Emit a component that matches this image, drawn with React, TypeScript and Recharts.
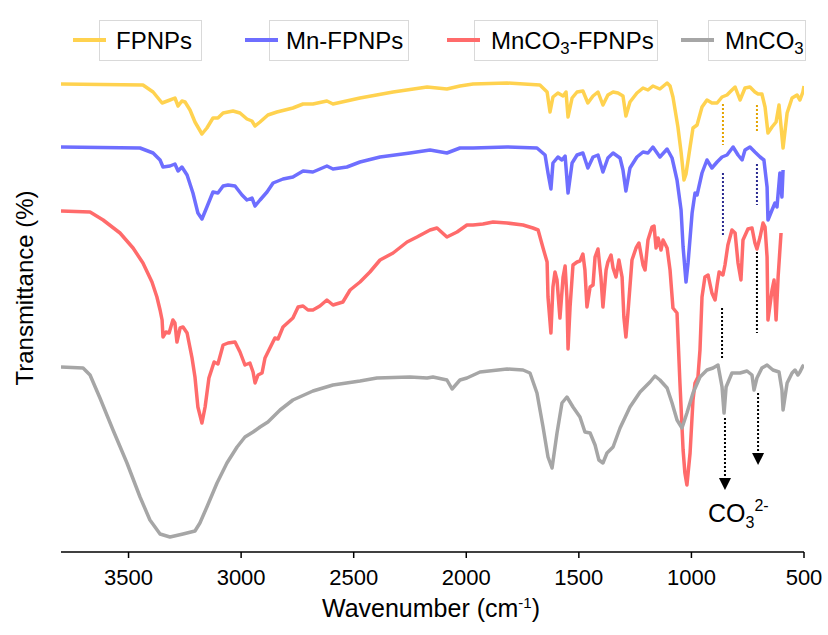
import React from 'react';
import { ComposedChart, Line, XAxis, YAxis, ReferenceLine, Scatter } from 'recharts';

// Wavenumber (cm-1), transmittance (arbitrary offset units)
const fpnps: [number, number][] = [
  [3800, 468], [3436, 467], [3391, 460], [3351, 449], [3316, 452], [3294, 454], [3280, 446], [3263, 451],
  [3249, 450], [3227, 442], [3205, 430], [3174, 418], [3152, 424], [3125, 434], [3103, 434], [3080, 439],
  [3036, 441], [3005, 439], [2974, 433], [2952, 431], [2938, 426], [2916, 430], [2881, 437], [2841, 440],
  [2770, 444], [2725, 448], [2681, 448], [2619, 451], [2592, 448], [2472, 454], [2325, 460], [2174, 465],
  [2086, 463], [2028, 466], [1970, 468], [1819, 469], [1673, 467], [1641, 460], [1628, 440], [1615, 455],
  [1593, 459], [1570, 456], [1557, 460], [1548, 435], [1530, 454], [1508, 460], [1482, 461], [1460, 449],
  [1437, 456], [1415, 460], [1393, 447], [1371, 457], [1348, 460], [1326, 459], [1304, 456], [1291, 436],
  [1273, 450], [1242, 459], [1215, 464], [1193, 462], [1171, 466], [1140, 463], [1108, 469], [1095, 466],
  [1082, 455], [1060, 425], [1046, 400], [1033, 372], [1024, 378], [1006, 405], [993, 424], [975, 427],
  [953, 445], [931, 452], [909, 449], [886, 449], [864, 455], [842, 457], [820, 462], [806, 465],
  [784, 452], [762, 464], [740, 465], [718, 460], [704, 458], [687, 458], [673, 445], [660, 419],
  [642, 425], [624, 430], [611, 447], [593, 404], [575, 439], [553, 454], [531, 457], [518, 452],
  [505, 460], [500, 466],
];

const mnFpnps: [number, number][] = [
  [3800, 405], [3449, 404], [3391, 399], [3360, 392], [3347, 385], [3316, 386], [3294, 388], [3280, 381],
  [3263, 385], [3240, 377], [3214, 359], [3192, 339], [3174, 333], [3152, 345], [3125, 360], [3103, 359],
  [3080, 366], [3058, 367], [3027, 366], [2996, 357], [2974, 352], [2952, 354], [2938, 346], [2916, 352],
  [2885, 360], [2858, 369], [2814, 373], [2770, 375], [2725, 381], [2681, 380], [2619, 386], [2592, 383],
  [2530, 385], [2472, 390], [2383, 395], [2250, 399], [2161, 402], [2086, 399], [2028, 404], [1970, 404],
  [1819, 405], [1686, 404], [1650, 397], [1637, 379], [1624, 363], [1615, 389], [1593, 395], [1575, 392],
  [1561, 396], [1548, 359], [1530, 389], [1508, 397], [1482, 399], [1460, 384], [1437, 395], [1415, 397],
  [1393, 380], [1371, 394], [1348, 399], [1317, 394], [1304, 382], [1291, 361], [1273, 384], [1242, 395],
  [1215, 400], [1193, 399], [1171, 405], [1140, 395], [1108, 403], [1086, 394], [1064, 372], [1046, 342],
  [1037, 305], [1024, 270], [1015, 289], [997, 339], [984, 359], [975, 357], [953, 379], [931, 392],
  [909, 384], [886, 390], [864, 395], [842, 397], [815, 405], [793, 397], [775, 392], [762, 402],
  [740, 405], [718, 400], [695, 395], [678, 392], [664, 365], [660, 332], [642, 342], [629, 349],
  [620, 345], [607, 379], [598, 355], [593, 382],
];

const mnco3Fpnps: [number, number][] = [
  [3800, 341], [3671, 340], [3613, 332], [3538, 319], [3480, 304], [3436, 289], [3396, 270], [3374, 255],
  [3360, 242], [3351, 232], [3347, 215], [3334, 220], [3320, 219], [3303, 232], [3294, 229], [3285, 210],
  [3271, 224], [3258, 225], [3240, 219], [3218, 194], [3205, 175], [3192, 145], [3174, 129], [3160, 145],
  [3143, 174], [3120, 190], [3103, 188], [3080, 207], [3058, 209], [3027, 210], [3005, 200], [2983, 187],
  [2961, 189], [2947, 180], [2938, 169], [2925, 177], [2907, 179], [2894, 194], [2872, 204], [2850, 214],
  [2836, 213], [2814, 225], [2770, 234], [2747, 245], [2725, 246], [2703, 242], [2681, 242], [2650, 246],
  [2619, 252], [2592, 247], [2548, 250], [2516, 262], [2472, 270], [2428, 280], [2383, 292], [2325, 299],
  [2263, 310], [2219, 315], [2161, 322], [2130, 324], [2086, 315], [2041, 320], [1997, 327], [1970, 327],
  [1926, 328], [1881, 330], [1819, 329], [1748, 327], [1704, 324], [1681, 322], [1659, 304], [1641, 290],
  [1637, 255], [1624, 219], [1615, 265], [1606, 280], [1597, 272], [1584, 234], [1570, 275], [1561, 286],
  [1553, 255], [1548, 203], [1539, 245], [1526, 287], [1508, 290], [1495, 291], [1482, 298], [1473, 282],
  [1464, 245], [1450, 265], [1437, 267], [1428, 295], [1415, 303], [1402, 275], [1393, 245], [1379, 282],
  [1371, 290], [1357, 297], [1348, 284], [1335, 275], [1322, 292], [1308, 275], [1300, 235], [1291, 215],
  [1282, 239], [1264, 292], [1246, 304], [1233, 309], [1215, 287], [1206, 282], [1193, 312], [1175, 325],
  [1166, 326], [1157, 304], [1148, 314], [1135, 302], [1126, 312], [1108, 304], [1095, 282], [1082, 244],
  [1064, 239], [1051, 169], [1037, 102], [1029, 79], [1020, 67], [1006, 99], [993, 152], [984, 169],
  [971, 175], [962, 202], [953, 255], [940, 275], [926, 277], [909, 259], [895, 252], [886, 267],
  [877, 280], [860, 277], [851, 287], [838, 307], [820, 322], [806, 319], [793, 289], [780, 272],
  [771, 312], [749, 323], [731, 324], [718, 309], [709, 303], [695, 315], [682, 329], [673, 325],
  [664, 295], [660, 232], [642, 262], [633, 272], [624, 232], [615, 275], [602, 319],
];

const mnco3: [number, number][] = [
  [3800, 185], [3702, 184], [3671, 177], [3627, 154], [3569, 122], [3507, 89], [3449, 55], [3405, 32],
  [3360, 18], [3316, 15], [3258, 18], [3205, 21], [3183, 29], [3152, 45], [3107, 69], [3063, 89],
  [3018, 105], [2983, 115], [2947, 120], [2916, 125], [2881, 130], [2827, 142], [2770, 152], [2681, 161],
  [2592, 167], [2472, 171], [2397, 174], [2250, 175], [2174, 174], [2148, 175], [2086, 172], [2063, 163],
  [2028, 172], [1997, 174], [1939, 180], [1819, 183], [1748, 182], [1717, 179], [1686, 159], [1659, 125],
  [1637, 95], [1619, 84], [1597, 119], [1575, 149], [1553, 155], [1526, 145], [1495, 135], [1473, 120],
  [1450, 119], [1428, 107], [1411, 92], [1393, 89], [1375, 99], [1348, 105], [1317, 124], [1273, 145],
  [1228, 160], [1184, 170], [1162, 176], [1140, 172], [1108, 164], [1086, 149], [1064, 132], [1042, 124],
  [1020, 139], [993, 159], [962, 175], [931, 182], [904, 184], [882, 187], [864, 165], [855, 139],
  [846, 165], [820, 179], [784, 179], [753, 181], [731, 177], [722, 162], [709, 174], [687, 184],
  [664, 187], [638, 182], [611, 180], [598, 162], [593, 142], [575, 169], [553, 179], [540, 182],
  [527, 177], [518, 180], [505, 186], [500, 187],
];

const xTicks = [3500, 3000, 2500, 2000, 1500, 1000, 500];
const seriesNames = ['FPNPs', 'Mn-FPNPs', 'MnCO3-FPNPs', 'MnCO3'];
const colors = ['#FFD24F', '#6E6EFF', '#FF6B6B', '#A6A6A6'];

// dotted guide segments: [wavenumber, yStart, yEnd, colour]
const guides: [number, number, number, string][] = [
  [860, 448, 407, '#E3A300'], [709, 447, 419, '#E3A300'],
  [860, 379, 317, '#2A2A90'], [709, 388, 347, '#2A2A90'],
  [864, 244, 194, '#000000'], [709, 300, 219, '#000000'],
  [851, 134, 68, '#000000'], [704, 159, 93, '#000000'],
];
const arrowTips = [{ w: 851, v: 62 }, { w: 704, v: 87 }];

const toObj = (arr: [number, number][]) => arr.map(([w, v]) => ({ w, v }));
const allSeries = [fpnps, mnFpnps, mnco3Fpnps, mnco3].map(toObj);

const FONT = '"Liberation Sans", Arial, sans-serif';

const ArrowHead = (props: any) => {
  const { cx, cy } = props;
  return <polygon points={`${cx - 6},${cy - 12} ${cx + 6},${cy - 12} ${cx},${cy}`} fill="#000" />;
};

const Sub = ({ t }: { t: string }) => (
  <span style={{ fontSize: '0.7em', position: 'relative', top: '0.35em' }}>{t}</span>
);

const legendLabel = (name: string) => {
  if (name === 'MnCO3-FPNPs') return <span>MnCO<Sub t="3" />-FPNPs</span>;
  if (name === 'MnCO3') return <span>MnCO<Sub t="3" /></span>;
  return <span>{name}</span>;
};

const legendPos = [
  { line: 73, box: 99, boxW: 103 },
  { line: 245, box: 269, boxW: 140 },
  { line: 447, box: 474, boxW: 184 },
  { line: 681, box: 708, boxW: 98 },
];

export default function App() {
  return (
    <div style={{ position: 'absolute', left: 0, top: 0, width: 828, height: 635, background: '#fff', fontFamily: FONT }}>
      <ComposedChart width={828} height={635} margin={{ top: 21, right: 24, bottom: 0, left: 61 }}>
        <XAxis
          dataKey="w"
          type="number"
          domain={[500, 3800]}
          reversed
          ticks={xTicks}
          allowDataOverflow
          height={83}
          tickSize={6}
          axisLine={{ stroke: '#000', strokeWidth: 1.5 }}
          tickLine={{ stroke: '#000', strokeWidth: 1.5 }}
          tick={{ fill: '#000', fontSize: 22, fontFamily: FONT, dy: 9 }}
        />
        <YAxis
          type="number"
          domain={[0, 531]}
          width={0}
          tick={false}
          tickLine={false}
          axisLine={{ stroke: '#000', strokeWidth: 1.5 }}
        />
        {allSeries.map((d, i) => (
          <Line
            key={seriesNames[i]}
            data={d}
            dataKey="v"
            name={seriesNames[i]}
            type="linear"
            stroke={colors[i]}
            strokeWidth={3.5}
            strokeLinejoin="round"
            dot={false}
            activeDot={false}
            isAnimationActive={false}
          />
        ))}
        {guides.map(([w, a, b, c], i) => (
          <ReferenceLine
            key={'g' + i}
            segment={[{ x: w, y: a }, { x: w, y: b }]}
            stroke={c}
            strokeWidth={2}
            strokeDasharray="2 2"
          />
        ))}
        <Scatter data={arrowTips} dataKey="v" shape={ArrowHead} isAnimationActive={false} />
      </ComposedChart>

      <svg width={828} height={635} style={{ position: 'absolute', left: 0, top: 0, pointerEvents: 'none' }}>
        <text x={431} y={617} textAnchor="middle" fontSize={25} fontFamily={FONT} fill="#000">
          Wavenumber (cm<tspan dy={-9} fontSize={15}>-1</tspan><tspan dy={9}>)</tspan>
        </text>
        <text x={33} y={288} textAnchor="middle" fontSize={24} fontFamily={FONT} fill="#000" transform="rotate(-90 33 288)">
          Transmittance (%)
        </text>
        <text x={708} y={522} fontSize={25} fontFamily={FONT} fill="#000">
          CO<tspan dy={6} fontSize={16}>3</tspan><tspan dy={-17} fontSize={16}>2-</tspan>
        </text>
      </svg>

      {seriesNames.map((n, i) => (
        <div key={n}>
          <div style={{ position: 'absolute', left: legendPos[i].line, top: 38, width: 33, height: 4, background: colors[i], zIndex: 2 }} />
          <div
            style={{
              position: 'absolute', left: legendPos[i].box, top: 20, width: legendPos[i].boxW, height: 41,
              border: '1px solid #D9D9D9', boxSizing: 'border-box', display: 'flex', alignItems: 'center',
              paddingLeft: 16, fontSize: 24, color: '#000', whiteSpace: 'nowrap', background: 'transparent',
            }}
          >
            {legendLabel(n)}
          </div>
        </div>
      ))}
    </div>
  );
}
